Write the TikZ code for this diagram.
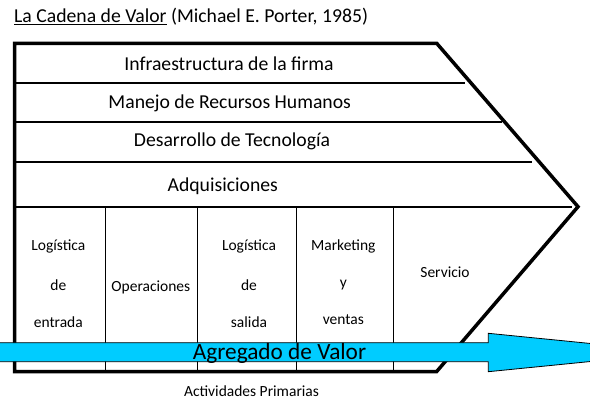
\documentclass[tikz,border=0pt]{standalone}
\usepackage{fontspec}
\setmainfont{Carlito}
\begin{document}
\begin{tikzpicture}[x=1pt,y=-1pt,
  outer/.style={line width=3.5pt, line join=miter},
  hline/.style={line width=2pt},
  vline/.style={line width=0.8pt},
  big/.style={font=\fontsize{19.7}{23}\selectfont, inner sep=0pt},
  small/.style={font=\fontsize{15.5}{18}\selectfont, inner sep=0pt},
  flow/.style={draw=black, line width=0.8pt, fill=arrowcyan},
]
\definecolor{arrowcyan}{RGB}{0,204,255}
\useasboundingbox (0,0) rectangle (590,415);
% horizontal separators
\draw[hline] (14,82.5) -- (465,82.5);
\draw[hline] (14,121.5) -- (502,121.5);
\draw[hline] (14,161.5) -- (532,161.5);
\draw[hline] (14,206.7) -- (572,206.7);
% vertical separators
\foreach \xx in {105.3,197.3,296,393.3}
  \draw[vline] (\xx,206.7) -- (\xx,371.5);
% outer arrow-shaped frame
\draw[outer] (14.5,43.3) -- (436.7,43.3) -- (578,206.7) -- (436.7,371.5) -- (14.5,371.5) -- cycle;
% title
\node[big, anchor=west] (title) at (14,17) {\underline{La Cadena de Valor} (Michael E. Porter, 1985)};
% support activities
\node[big] (infra) at (229,63.3) {Infraestructura de la firma};
\node[big] (rrhh) at (229.7,103) {Manejo de Recursos Humanos};
\node[big] (tec) at (232,141.7) {Desarrollo de Tecnología};
\node[big] (adq) at (222.8,186.7) {Adquisiciones};
% primary activities
\node[small] (le1) at (58.3,246.7) {Logística};
\node[small] (le2) at (58.3,285) {de};
\node[small] (le3) at (58.3,321.7) {entrada};
\node[small] (op) at (150.8,287) {Operaciones};
\node[small] (ls1) at (249,246.7) {Logística};
\node[small] (ls2) at (249,285) {de};
\node[small] (ls3) at (249,321.7) {salida};
\node[small] (mk1) at (343.3,246.7) {Marketing};
\node[small] (mk2) at (343.3,285) {y};
\node[small] (mk3) at (343.3,320) {ventas};
\node[small] (serv) at (445,272.7) {Servicio};
% value arrow
\begin{scope}
\clip (0,0) rectangle (590,415);
\draw[flow] (-5,342.7) -- (488.3,342.7) -- (488.3,333.3) -- (681,352.5) -- (488.3,371.7) -- (488.3,361.7) -- (-5,361.7) -- cycle;
\end{scope}
\node[font=\fontsize{23.3}{27}\selectfont, inner sep=0pt] (valor) at (279.5,353) {Agregado de Valor};
\node[small] (prim) at (251.5,391) {Actividades Primarias};
\end{tikzpicture}
\end{document}
